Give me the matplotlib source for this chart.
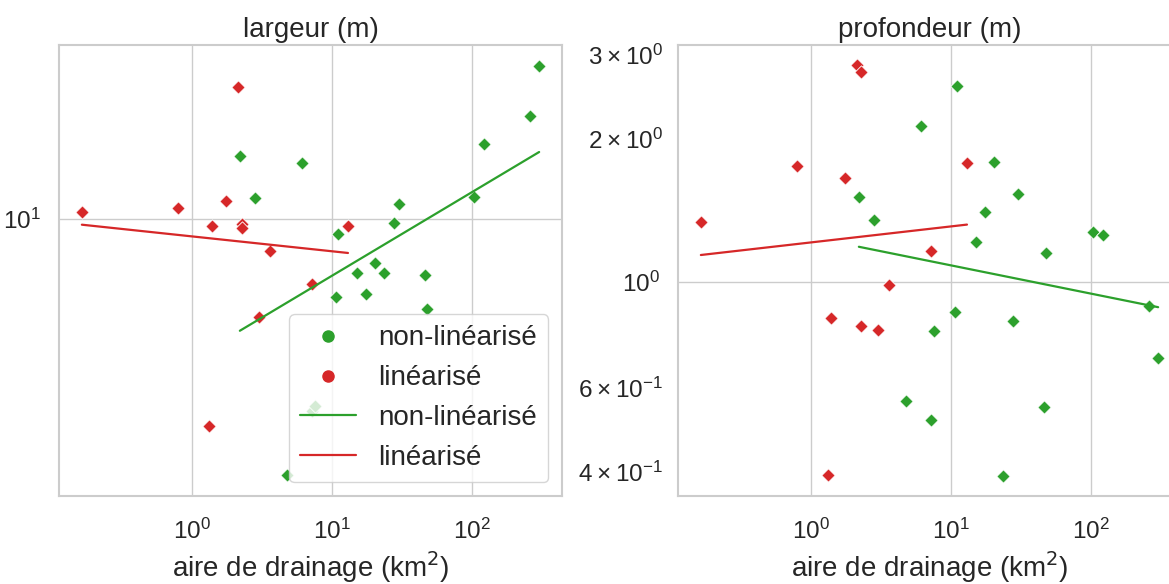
import numpy as np
import matplotlib
matplotlib.use("Agg")
import matplotlib.pyplot as plt
from matplotlib.lines import Line2D
import seaborn as sns

# aire de drainage (km2), série non-linéarisée
aire_nl = [2.208, 2.838, 4.808, 6.124, 7.178, 7.621, 10.79, 11.02, 15.03, 17.66,
           20.46, 23.60, 27.80, 30.27, 45.92, 47.32, 103.5, 121.3, 258.8, 300.6]
largeur_nl = [14.68, 11.36, 2.111, 14.02, 3.130, 3.226, 6.245, 9.115, 7.223, 6.348,
              7.646, 7.223, 9.761, 10.97, 7.110, 5.785, 11.43, 15.75, 18.63, 25.38]
profondeur_nl = [1.510, 1.353, 0.5630, 2.127, 0.5135, 0.7894, 0.8639, 2.585, 1.215, 1.400,
                 1.791, 0.3920, 0.8260, 1.534, 0.5453, 1.152, 1.273, 1.257, 0.8906, 0.6908]

# série linéarisée
aire_lin = [0.165, 0.800, 1.334, 1.409, 1.754, 2.148, 2.291, 2.300, 2.999, 3.614, 7.178, 13.03]
largeur_lin = [10.41, 10.69, 2.848, 9.567, 11.13, 22.25, 9.684, 9.452, 5.533, 8.253, 6.744, 9.602]
profondeur_lin = [1.339, 1.754, 0.3939, 0.8393, 1.658, 2.851, 2.761, 0.8063, 0.7931, 0.9875, 1.160, 1.782]

titres = ['largeur (m)', 'profondeur (m)']
noms = ['non-linéarisé', 'linéarisé']
VERT = '#2ca02c'
ROUGE = '#d62728'

sns.set_theme(style='whitegrid')
plt.rcParams['font.family'] = ['Liberation Sans', 'DejaVu Sans']
plt.rcParams['xtick.major.pad'] = 10
plt.rcParams['ytick.major.pad'] = 7
plt.rcParams['xtick.minor.pad'] = 10
plt.rcParams['ytick.minor.pad'] = 7

W, H = 1169, 584
fig = plt.figure(figsize=(W / 100, H / 100), dpi=100)
ax1 = fig.add_axes([59 / W, (H - 496) / H, 503 / W, 451 / H])
ax2 = fig.add_axes([678 / W, (H - 496) / H, 503 / W, 451 / H])


def fit_line(x, y):
    lx, ly = np.log10(x), np.log10(y)
    a, b = np.polyfit(lx, ly, 1)
    xs = np.array([lx.min(), lx.max()])
    return 10 ** xs, 10 ** (a * xs + b)


for ax, titre, y_nl, y_lin in [(ax1, titres[0], largeur_nl, largeur_lin),
                               (ax2, titres[1], profondeur_nl, profondeur_lin)]:
    ax.scatter(aire_nl, y_nl, marker='D', s=46, color=VERT, edgecolor='white',
               linewidth=0.6, zorder=2)
    ax.scatter(aire_lin, y_lin, marker='D', s=46, color=ROUGE, edgecolor='white',
               linewidth=0.6, zorder=2)
    xf, yf = fit_line(aire_nl, y_nl)
    ax.plot(xf, yf, color=VERT, lw=1.6, zorder=3)
    xf, yf = fit_line(aire_lin, y_lin)
    ax.plot(xf, yf, color=ROUGE, lw=1.6, zorder=3)
    ax.set_xscale('log')
    ax.set_yscale('log')
    ax.set_title(titre, fontsize=20)
    ax.set_xlabel('aire de drainage (km$^2$)', fontsize=20)
    ax.tick_params(which='both', labelsize=17.5)
    for sp in ax.spines.values():
        sp.set_color('#cccccc')
        sp.set_linewidth(1.5)

handles = [
    Line2D([], [], marker='o', ls='none', color=VERT, markersize=8),
    Line2D([], [], marker='o', ls='none', color=ROUGE, markersize=8),
    Line2D([], [], color=VERT, lw=1.6),
    Line2D([], [], color=ROUGE, lw=1.6),
]
ax1.legend(handles, noms + noms, loc='lower right', fontsize=20)

fig.savefig('out.png', dpi=100)
